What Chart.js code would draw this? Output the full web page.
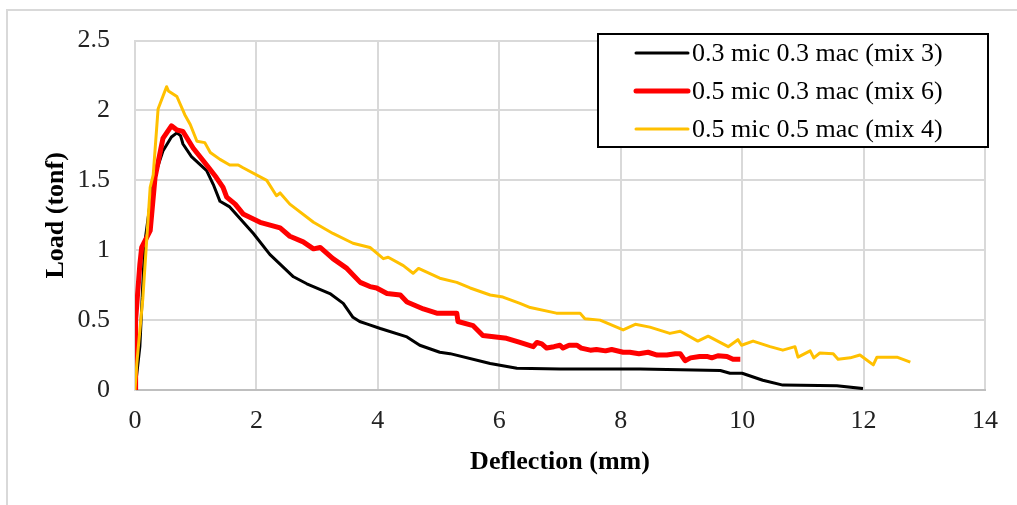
<!DOCTYPE html>
<html>
<head>
<meta charset="utf-8">
<script src="https://cdn.jsdelivr.net/npm/chart.js@4.4.1/dist/chart.umd.min.js"></script>
<style>
    html, body { margin: 0; padding: 0; background: #fff; }
    #wrap { position: relative; width: 1017px; height: 505px; overflow: hidden; }
    #frame { position: absolute; left: 6px; top: 9px; width: 1100px; height: 600px; border-left: 2px solid #d9d9d9; border-top: 2px solid #d9d9d9; }
    canvas { position: absolute; left: 0; top: 0; }
</style>
</head>
<body>
<div id="wrap">
    <div id="frame"></div>
    <canvas id="loadChart" width="1017" height="505"></canvas>
</div>
<script>
// Load vs deflection values
const mix3Defl = [0, 0.08, 0.16, 0.3, 0.46, 0.6, 0.69, 0.75, 0.79, 0.93, 1.18, 1.29, 1.40, 1.56, 1.95, 2.22, 2.61, 2.83, 3.21, 3.43, 3.59, 3.7, 3.84, 4.04, 4.48, 4.69, 5.02, 5.19, 5.85, 6.29, 7.0, 8.32, 9.64, 9.80, 10.0, 10.34, 10.67, 11.56, 11.99];
const mix3Load = [0, 0.31, 1.05, 1.5, 1.71, 1.81, 1.84, 1.82, 1.76, 1.67, 1.57, 1.47, 1.35, 1.31, 1.12, 0.97, 0.81, 0.76, 0.69, 0.62, 0.52, 0.49, 0.47, 0.44, 0.38, 0.32, 0.27, 0.26, 0.19, 0.155, 0.15, 0.15, 0.14, 0.12, 0.12, 0.07, 0.035, 0.03, 0.01];

const mix6Defl = [0, 0.01, 0.08, 0.11, 0.25, 0.33, 0.46, 0.6, 0.69, 0.79, 0.96, 1.18, 1.34, 1.45, 1.51, 1.65, 1.78, 2.06, 2.39, 2.55, 2.77, 2.94, 3.05, 3.26, 3.49, 3.71, 3.87, 3.98, 4.15, 4.37, 4.48, 4.75, 4.97, 5.30, 5.32, 5.57, 5.73, 6.12, 6.34, 6.56, 6.62, 6.70, 6.78, 6.90, 7.00, 7.05, 7.15, 7.28, 7.35, 7.50, 7.60, 7.75, 7.85, 8.04, 8.15, 8.30, 8.45, 8.60, 8.76, 8.90, 8.98, 9.06, 9.15, 9.30, 9.42, 9.50, 9.60, 9.75, 9.85, 9.97];
const mix6Load = [0, 0.5, 0.9, 1.02, 1.14, 1.52, 1.80, 1.89, 1.86, 1.85, 1.73, 1.61, 1.52, 1.45, 1.38, 1.33, 1.26, 1.20, 1.16, 1.10, 1.06, 1.01, 1.02, 0.94, 0.87, 0.77, 0.74, 0.73, 0.69, 0.68, 0.63, 0.58, 0.55, 0.55, 0.49, 0.46, 0.39, 0.37, 0.34, 0.31, 0.34, 0.33, 0.30, 0.31, 0.32, 0.30, 0.32, 0.32, 0.30, 0.285, 0.29, 0.28, 0.29, 0.27, 0.27, 0.26, 0.27, 0.25, 0.25, 0.26, 0.26, 0.21, 0.23, 0.24, 0.24, 0.23, 0.245, 0.24, 0.22, 0.22];

const mix4Defl = [0, 0.03, 0.13, 0.25, 0.30, 0.38, 0.52, 0.55, 0.69, 0.82, 0.91, 1.02, 1.15, 1.24, 1.40, 1.56, 1.70, 1.78, 2.17, 2.33, 2.39, 2.55, 2.94, 3.26, 3.59, 3.87, 4.09, 4.17, 4.42, 4.58, 4.67, 5.02, 5.30, 5.52, 5.85, 6.06, 6.34, 6.51, 6.94, 7.33, 7.41, 7.66, 8.04, 8.24, 8.48, 8.81, 8.98, 9.27, 9.44, 9.77, 9.93, 9.99, 10.18, 10.46, 10.67, 10.87, 10.92, 11.12, 11.18, 11.28, 11.50, 11.58, 11.78, 11.94, 12.16, 12.22, 12.55, 12.77];
const mix4Load = [0, 0.19, 0.66, 1.45, 1.54, 2.01, 2.17, 2.14, 2.10, 1.97, 1.90, 1.78, 1.77, 1.70, 1.65, 1.61, 1.61, 1.59, 1.50, 1.39, 1.41, 1.33, 1.20, 1.12, 1.05, 1.02, 0.94, 0.95, 0.89, 0.835, 0.87, 0.80, 0.77, 0.73, 0.68, 0.665, 0.62, 0.59, 0.55, 0.55, 0.51, 0.50, 0.43, 0.47, 0.45, 0.405, 0.42, 0.35, 0.385, 0.31, 0.36, 0.32, 0.35, 0.31, 0.285, 0.31, 0.235, 0.28, 0.23, 0.265, 0.26, 0.22, 0.23, 0.25, 0.18, 0.235, 0.235, 0.20];

const seriesNames = ['0.3 mic 0.3 mac (mix 3)', '0.5 mic 0.3 mac (mix 6)', '0.5 mic 0.5 mac (mix 4)'];
const xTicks = [0, 2, 4, 6, 8, 10, 12, 14];
const yTicks = [0, 0.5, 1, 1.5, 2, 2.5];

const SERIF = "'Liberation Serif', 'Times New Roman', serif";

function toPoints(xs, ys) {
    return xs.map((x, i) => ({ x: x, y: ys[i] }));
}

// legend box drawn by hand (Excel style, inside the plot area)
const boxLegend = {
    id: 'boxLegend',
    afterDraw(chart) {
        const ctx = chart.ctx;
        const left = 598, top = 34, w = 390, h = 113;
        ctx.save();
        ctx.fillStyle = '#fff';
        ctx.fillRect(left, top, w, h);
        ctx.strokeStyle = '#000';
        ctx.lineWidth = 2;
        ctx.strokeRect(left, top, w, h);
        chart.data.datasets.forEach((ds, i) => {
            const y = 53 + i * 38;
            ctx.strokeStyle = ds.borderColor;
            ctx.lineWidth = ds.borderWidth;
            ctx.lineCap = 'round';
            ctx.beginPath();
            ctx.moveTo(636, y);
            ctx.lineTo(688, y);
            ctx.stroke();
            ctx.fillStyle = '#000';
            ctx.font = '26px ' + SERIF;
            ctx.textBaseline = 'middle';
            ctx.fillText(ds.label, 692, y + 1);
        });
        ctx.restore();
    }
};

const ctx = document.getElementById('loadChart').getContext('2d');
new Chart(ctx, {
    type: 'line',
    data: {
        datasets: [
            { label: seriesNames[0], data: toPoints(mix3Defl, mix3Load), borderColor: '#000000', borderWidth: 3, order: 3 },
            { label: seriesNames[1], data: toPoints(mix6Defl, mix6Load), borderColor: '#ff0000', borderWidth: 5, order: 2 },
            { label: seriesNames[2], data: toPoints(mix4Defl, mix4Load), borderColor: '#ffc000', borderWidth: 3, order: 1 }
        ]
    },
    options: {
        responsive: false,
        animation: false,
        parsing: false,
        elements: { point: { radius: 0 }, line: { tension: 0, borderJoinStyle: 'round' } },
        layout: { padding: { left: 0, top: 39, right: 32, bottom: 0 } },
        plugins: { legend: { display: false }, tooltip: { enabled: false } },
        scales: {
            x: {
                type: 'linear',
                min: 0, max: 14,
                afterBuildTicks: s => { s.ticks = xTicks.map(v => ({ value: v })); },
                afterFit: s => { s.height = 115; },
                grid: { color: '#d9d9d9', lineWidth: 2, drawTicks: false },
                border: { color: '#bfbfbf', width: 2 },
                ticks: { color: '#222', padding: 16, font: { family: SERIF, size: 26 }, callback: v => String(v) },
                title: { display: true, text: 'Deflection (mm)', color: '#000', padding: { top: 0, bottom: 27 }, font: { family: SERIF, size: 26, weight: 'bold' } }
            },
            y: {
                min: 0, max: 2.5,
                afterBuildTicks: s => { s.ticks = yTicks.map(v => ({ value: v })); },
                afterFit: s => { s.width = 135; },
                grid: { color: '#d9d9d9', lineWidth: 2, drawTicks: false },
                border: { color: '#d9d9d9', width: 2 },
                ticks: { color: '#222', padding: 25, font: { family: SERIF, size: 26 }, callback: v => String(v) },
                title: { display: true, text: 'Load (tonf)', color: '#000', padding: { top: 41, bottom: 0 }, font: { family: SERIF, size: 26, weight: 'bold' } }
            }
        }
    },
    plugins: [boxLegend]
});
</script>
</body>
</html>
